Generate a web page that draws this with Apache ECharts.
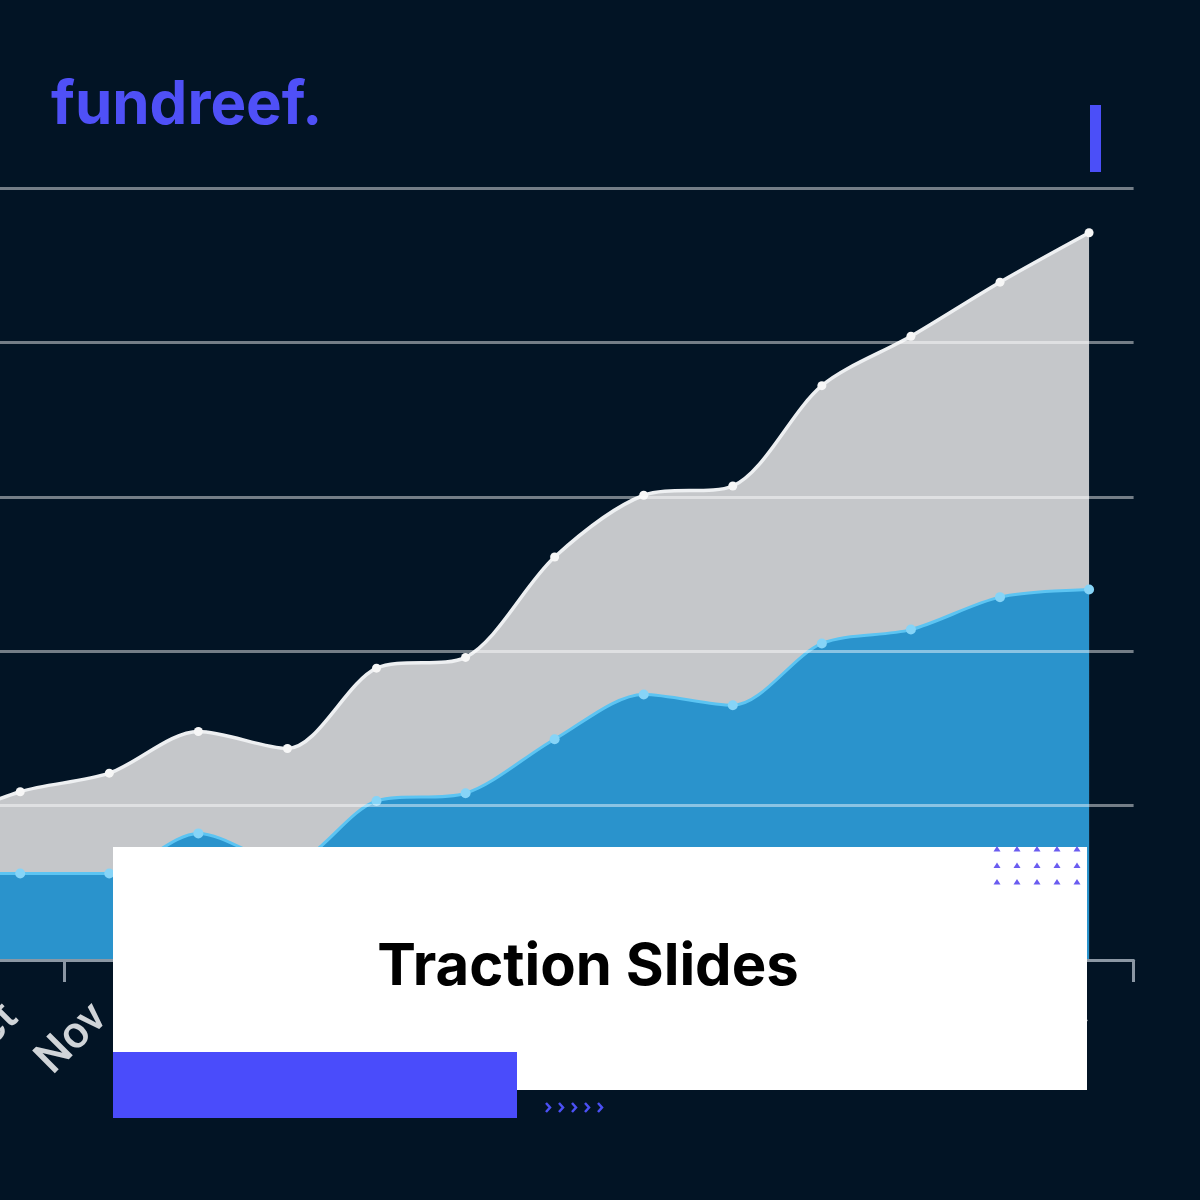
<!DOCTYPE html>
<html>
<head>
<meta charset="utf-8">
<style>
  html, body { margin: 0; padding: 0; background: #021425; }
  #chart { width: 1200px; height: 1200px; }
</style>
<script src="https://cdn.jsdelivr.net/npm/echarts@6/dist/echarts.min.js"></script>
</head>
<body>
<div id="chart"></div>
<script>
// ---- data ----
var months = ['Sep', 'Oct', 'Nov', 'Dec', 'Jan', 'Feb', 'Mar', 'Apr', 'May', 'Jun', 'Jul', 'Aug', 'Sep', 'Oct'];
var totalValues = [0.86, 1.09, 1.21, 1.48, 1.37, 1.89, 1.96, 2.61, 3.01, 3.07, 3.72, 4.04, 4.39, 4.71];
var blueValues  = [0.56, 0.56, 0.56, 0.82, 0.62, 1.03, 1.08, 1.43, 1.72, 1.65, 2.05, 2.14, 2.35, 2.40];
var yTicks = [0, 1, 2, 3, 4, 5];
var titleText = 'Traction Slides';
var logoText = 'fundreef.';

var chart = echarts.init(document.getElementById('chart'), null, { renderer: 'canvas' });

// decorative elements
var graphics = [];
graphics.push({
  type: 'text', z: 100,
  style: { x: 51, y: 106, text: logoText, font: 'bold 60px Inter', fill: '#4f50f7', textVerticalAlign: 'middle' }
});
graphics.push({
  type: 'rect', z: 100,
  shape: { x: 1090, y: 105, width: 11, height: 67 },
  style: { fill: '#4b4ff8' }
});
graphics.push({
  type: 'rect', z: 100,
  shape: { x: 113, y: 847, width: 974, height: 243 },
  style: { fill: '#ffffff' }
});
graphics.push({
  type: 'text', z: 101,
  style: { x: 588, y: 968, text: titleText, font: 'bold 58px Inter', fill: '#000000', textAlign: 'center', textVerticalAlign: 'middle' }
});
graphics.push({
  type: 'rect', z: 101,
  shape: { x: 113, y: 1052, width: 404, height: 66 },
  style: { fill: '#4a4cfb' }
});
for (var r = 0; r < 3; r++) {
  for (var c = 0; c < 5; c++) {
    var cx = 997 + c * 20, cy = 849 + r * 16.5;
    graphics.push({
      type: 'polygon', z: 102,
      shape: { points: [[cx - 3.5, cy + 2.5], [cx + 3.5, cy + 2.5], [cx, cy - 3]] },
      style: { fill: '#6a5cf0' }
    });
  }
}
for (var k = 0; k < 5; k++) {
  var px = 546 + k * 13;
  graphics.push({
    type: 'polyline', z: 102,
    shape: { points: [[px, 1103], [px + 4, 1107.5], [px, 1112]] },
    style: { stroke: '#4b50f5', lineWidth: 2.5, fill: null }
  });
}

var option = {
  backgroundColor: '#021425',
  animation: false,
  grid: { left: -113.4, width: 1247, top: 188, bottom: 240, outerBoundsMode: 'none', containLabel: false },
  xAxis: {
    type: 'category',
    data: months,
    boundaryGap: true,
    z: 3,
    axisLine: { show: true, lineStyle: { color: '#8b97a4', width: 3 } },
    axisTick: { show: true, length: 22, lineStyle: { color: '#8b97a4', width: 3 } },
    axisLabel: { rotate: 45, margin: 43, padding: [0, 12, 0, 0], color: '#d0d4d8', fontSize: 45, fontFamily: 'Roboto', fontWeight: 500, interval: 0 },
    splitLine: { show: false }
  },
  yAxis: {
    type: 'value',
    min: yTicks[0], max: yTicks[yTicks.length - 1], interval: 1,
    z: 3,
    axisLine: { show: false }, axisTick: { show: false }, axisLabel: { show: false },
    splitLine: { show: true, lineStyle: { color: 'rgba(255,255,255,0.45)', width: 3 } }
  },
  series: [
    {
      type: 'line', data: totalValues, smooth: 0.3,
      symbol: 'circle', symbolSize: 9,
      lineStyle: { color: '#eef0f2', width: 3.5 },
      itemStyle: { color: '#f7f7f7' },
      areaStyle: { color: '#c5c7ca', opacity: 1 },
      z: 2
    },
    {
      type: 'line', data: blueValues, smooth: 0.3,
      symbol: 'circle', symbolSize: 10,
      lineStyle: { color: '#5cc4f2', width: 3 },
      itemStyle: { color: '#86d4f7' },
      areaStyle: { color: '#2a93cc', opacity: 1 },
      z: 2
    }
  ],
  graphic: graphics
};
chart.setOption(option);
</script>
</body>
</html>
